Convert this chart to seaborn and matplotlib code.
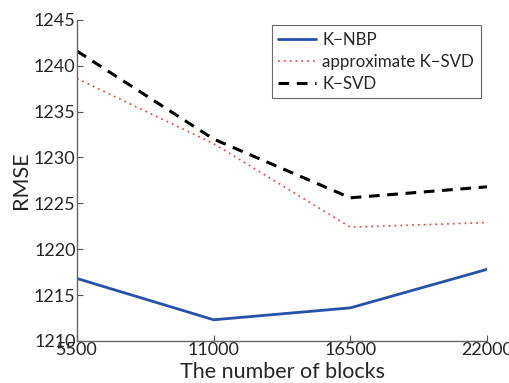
import matplotlib
matplotlib.use('Agg')
import matplotlib.pyplot as plt
import seaborn as sns
import pandas as pd

blocks = [5500, 11000, 16500, 22000]
knbp = [1216.8, 1212.3, 1213.6, 1217.8]
approx_ksvd = [1238.6, 1231.5, 1222.4, 1222.9]
ksvd = [1241.6, 1232.0, 1225.6, 1226.8]

sns.set_style('white')
plt.rcParams['font.family'] = ['Lato', 'DejaVu Sans']

df = pd.DataFrame({'blocks': blocks, 'K\u2212NBP': knbp,
                   'approximate K\u2212SVD': approx_ksvd, 'K\u2212SVD': ksvd})

fig = plt.figure(figsize=(5.1, 3.83), dpi=100)
ax = fig.add_axes([0.151, 0.110, 0.804, 0.838])

sns.lineplot(data=df, x='blocks', y='K\u2212NBP', ax=ax, color='#2850a8', lw=2.0, label='K\u2212NBP')
sns.lineplot(data=df, x='blocks', y='approximate K\u2212SVD', ax=ax, color='#f03c32', lw=1.2,
             linestyle=(0, (1, 2.5)), label='approximate K\u2212SVD')
sns.lineplot(data=df, x='blocks', y='K\u2212SVD', ax=ax, color='black', lw=2.2,
             linestyle=(0, (3.5, 2.5)), label='K\u2212SVD')

ax.set_xlim(5500, 22000)
ax.set_ylim(1210, 1245)
ax.set_xticks(blocks)
ax.set_yticks(range(1210, 1246, 5))
ax.tick_params(direction='in', length=4, labelsize=13, color='#555555', pad=1,
               bottom=True, left=True)
for s in ['top', 'right']:
    ax.spines[s].set_visible(False)
for s in ['left', 'bottom']:
    ax.spines[s].set_color('#666666')
    ax.spines[s].set_linewidth(1.0)
ax.set_xlabel('The number of blocks', fontsize=15.5, labelpad=3)
ax.set_ylabel('RMSE', fontsize=15.5, labelpad=2)

leg = ax.legend(loc='upper right', bbox_to_anchor=(0.985, 0.984), borderaxespad=0,
                fontsize=12.2, frameon=True, fancybox=False, edgecolor='#444444',
                handlelength=2.2, borderpad=0.4, labelspacing=0.35, handletextpad=0.4)
leg.get_frame().set_linewidth(0.8)

fig.savefig('out.png', dpi=100)
